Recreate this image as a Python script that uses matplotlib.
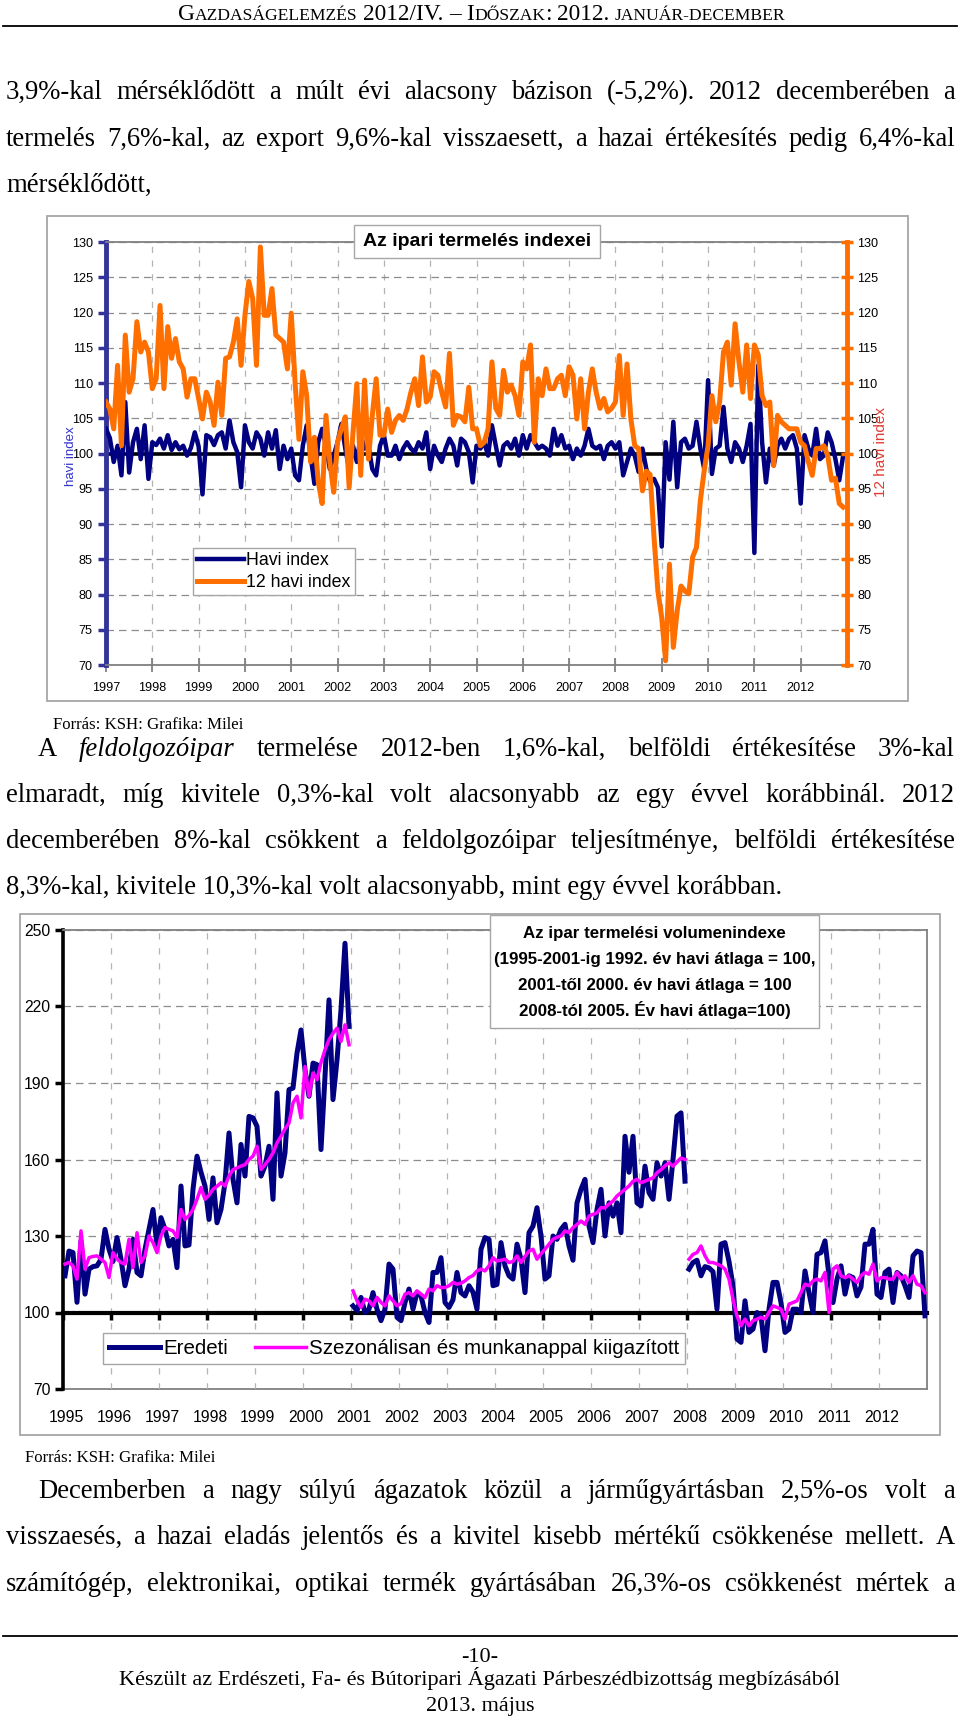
import matplotlib
matplotlib.use("Agg")
import matplotlib.pyplot as plt
import numpy as np
from matplotlib import font_manager
from matplotlib.patches import Rectangle

# ---------------- data ----------------
# chart 1: monthly indices 1997-2012 (one row per year)
havi_index = [
    [103.5, 102.2, 98.8, 101.1, 96.9, 107.3, 97.3, 101.6, 103.5, 99.2, 104.0, 96.4],
    [101.6, 101.2, 102.1, 100.7, 102.6, 100.5, 101.6, 100.6, 101.1, 99.7, 100.8, 103.0],
    [101.0, 94.2, 102.6, 102.3, 101.2, 102.6, 103.0, 100.7, 104.7, 101.6, 100.2, 95.2],
    [104.0, 101.6, 100.7, 103.0, 102.1, 99.7, 103.0, 100.7, 103.3, 97.8, 101.1, 99.2],
    [100.7, 96.9, 96.2, 101.1, 104.0, 99.7, 95.7, 101.6, 103.5, 101.1, 97.8, 99.7],
    [101.6, 104.2, 100.7, 97.8, 101.1, 98.8, 102.6, 100.7, 101.1, 97.8, 96.9, 101.1],
    [102.6, 99.7, 99.7, 101.1, 99.2, 100.7, 101.6, 100.7, 100.2, 101.6, 100.7, 103.0],
    [97.8, 101.1, 99.7, 98.8, 100.7, 102.1, 101.1, 98.3, 102.1, 101.6, 100.2, 95.9],
    [101.1, 100.7, 101.6, 99.7, 104.0, 101.1, 98.3, 101.1, 101.6, 100.7, 102.1, 99.7],
    [102.6, 100.7, 102.6, 101.6, 100.7, 101.1, 100.7, 99.7, 103.5, 101.1, 102.6, 100.7],
    [101.1, 99.2, 100.7, 99.7, 101.1, 103.5, 101.1, 100.7, 101.1, 99.2, 101.1, 101.6],
    [100.7, 101.6, 96.9, 98.8, 100.7, 99.7, 97.4, 100.7, 97.8, 96.0, 96.4, 95.2],
    [86.8, 101.6, 96.3, 104.5, 95.2, 101.6, 102.1, 100.7, 101.1, 104.5, 100.7, 97.8],
    [110.4, 97.1, 100.7, 101.1, 106.6, 100.7, 98.8, 101.6, 100.7, 98.8, 101.1, 104.2],
    [85.9, 112.5, 101.6, 95.9, 100.7, 98.3, 101.1, 102.1, 100.7, 102.1, 102.6, 100.7],
    [92.9, 102.6, 100.7, 99.7, 103.5, 99.2, 99.7, 103.0, 101.6, 99.2, 96.2, 99.7],
]
havi12_index = [
    [107.3, 106.3, 103.5, 112.5, 101.1, 116.8, 108.7, 110.6, 118.7, 114.4, 115.8, 114.4],
    [109.2, 110.6, 121.0, 109.2, 118.0, 113.5, 116.3, 113.0, 112.0, 108.0, 110.6, 110.6],
    [107.8, 104.9, 108.7, 107.3, 104.0, 110.1, 105.4, 113.5, 113.7, 115.8, 119.1, 112.5],
    [119.6, 124.4, 122.0, 112.5, 129.3, 119.6, 119.6, 123.4, 116.8, 116.3, 115.8, 112.0],
    [119.9, 110.0, 102.0, 111.6, 108.2, 98.8, 102.3, 96.0, 92.9, 105.4, 98.8, 94.5],
    [101.6, 103.5, 105.2, 95.2, 103.0, 109.9, 96.9, 110.4, 99.2, 105.4, 110.6, 102.6],
    [102.6, 106.3, 103.0, 104.7, 105.4, 104.7, 106.3, 108.7, 110.6, 106.8, 113.7, 107.3],
    [108.0, 111.6, 111.1, 108.7, 106.6, 114.2, 104.0, 105.4, 105.2, 104.5, 109.4, 103.5],
    [103.5, 101.1, 101.6, 103.5, 113.0, 106.4, 105.4, 111.8, 108.7, 109.7, 108.2, 105.4],
    [113.0, 112.0, 115.4, 101.6, 110.6, 108.2, 112.0, 109.2, 109.2, 110.6, 111.1, 108.2],
    [112.3, 111.1, 104.9, 110.6, 103.5, 108.7, 112.0, 108.7, 106.4, 107.8, 105.9, 106.4],
    [107.3, 113.9, 105.4, 112.7, 104.9, 101.1, 100.7, 94.7, 97.5, 97.0, 88.1, 80.5],
    [76.7, 70.6, 84.3, 72.5, 77.7, 81.2, 80.5, 80.1, 85.3, 86.7, 93.3, 97.6],
    [101.1, 108.2, 104.5, 107.3, 114.4, 115.8, 109.7, 118.4, 113.0, 108.7, 115.4, 107.8],
    [115.4, 114.0, 108.2, 106.8, 107.3, 98.3, 105.4, 104.5, 104.0, 103.5, 103.5, 103.5],
    [101.6, 101.1, 98.8, 96.9, 100.7, 100.7, 101.1, 99.7, 96.2, 96.5, 92.9, 92.4],
]
years1 = list(range(1997, 2013))
ticks1 = list(range(70, 131, 5))

# chart 2: volume index, three base periods
eredeti_1995 = [
    [114.4, 124.1, 123.5, 104.0, 128.1, 107.2, 117.0, 118.0, 118.3, 120.9, 132.6, 124.8],
    [120.0, 129.4, 120.9, 110.5, 117.0, 128.7, 115.7, 114.4, 124.8, 132.6, 140.4, 126.1],
    [137.2, 132.6, 126.1, 128.7, 117.6, 149.6, 126.1, 126.5, 148.3, 161.3, 155.0, 149.6],
    [136.5, 152.8, 135.2, 140.4, 150.9, 170.4, 152.2, 143.0, 165.9, 153.5, 176.9, 176.3],
    [173.0, 153.5, 157.4, 165.2, 144.4, 186.1, 153.5, 162.6, 187.4, 188.0, 201.7, 210.8],
    [195.2, 184.8, 197.8, 197.2, 163.9, 192.6, 222.6, 183.5, 199.0, 218.7, 244.8, 212.2],
]
kiigazitott_1995 = [
    [119.0, 119.6, 118.3, 113.1, 132.0, 117.0, 121.5, 122.0, 122.2, 120.9, 119.6, 113.7],
    [123.5, 121.0, 119.6, 119.0, 128.7, 117.6, 131.3, 119.6, 122.2, 130.0, 127.4, 123.5],
    [130.0, 133.3, 132.6, 132.0, 129.4, 140.4, 136.5, 138.0, 140.4, 144.4, 149.0, 144.4],
    [146.0, 148.3, 149.5, 150.9, 149.6, 153.5, 156.0, 156.7, 157.4, 158.0, 160.0, 161.3],
    [165.2, 156.1, 158.0, 160.0, 162.6, 166.5, 169.1, 172.0, 174.3, 182.2, 184.8, 176.3],
    [196.5, 184.8, 193.9, 191.3, 198.0, 203.0, 207.0, 209.5, 211.5, 206.3, 212.8, 205.0],
]
eredeti_2001 = [
    [102.6, 100.7, 105.9, 100.0, 101.3, 107.8, 101.3, 96.8, 101.3, 119.0, 117.0, 98.1],
    [96.8, 103.9, 109.2, 101.3, 107.8, 106.5, 100.0, 96.1, 115.7, 115.7, 121.5, 103.9],
    [102.0, 105.0, 115.7, 107.8, 106.5, 110.5, 108.0, 101.3, 124.8, 129.4, 128.7, 110.5],
    [111.0, 127.4, 118.3, 114.4, 113.1, 126.8, 120.9, 107.8, 131.3, 133.9, 141.1, 130.0],
    [113.1, 114.4, 130.0, 128.7, 132.6, 134.6, 126.1, 120.5, 143.0, 148.3, 152.2, 133.9],
    [127.4, 140.4, 148.3, 130.0, 143.0, 137.8, 143.0, 131.3, 169.1, 155.0, 169.1, 143.0],
    [141.8, 157.4, 147.0, 144.4, 158.7, 153.5, 158.7, 144.4, 160.0, 177.0, 178.3, 151.5],
]
kiigazitott_2001 = [
    [108.5, 104.6, 102.0, 105.2, 104.6, 102.6, 105.9, 104.0, 102.6, 106.5, 104.6, 102.6],
    [103.5, 107.2, 107.8, 106.5, 108.5, 107.2, 105.9, 109.2, 108.5, 110.5, 109.8, 109.8],
    [110.5, 111.8, 111.1, 111.5, 112.4, 113.7, 114.5, 116.3, 117.0, 116.3, 118.3, 121.5],
    [120.2, 120.5, 120.9, 119.6, 120.0, 122.2, 119.6, 122.0, 124.1, 124.8, 120.9, 123.0],
    [124.8, 126.8, 128.7, 129.5, 130.0, 132.0, 131.3, 133.3, 134.5, 135.9, 134.6, 137.8],
    [138.5, 139.1, 141.1, 141.1, 142.5, 143.7, 145.7, 147.0, 148.3, 149.6, 151.5, 152.2],
    [150.9, 151.5, 152.2, 152.8, 154.8, 156.0, 157.5, 158.7, 157.4, 159.0, 160.6, 160.0],
]
eredeti_2008 = [
    [117.0, 119.6, 120.5, 114.4, 118.0, 117.5, 116.0, 101.3, 126.8, 127.4, 120.0, 110.5],
    [89.6, 88.3, 104.6, 92.2, 93.5, 100.0, 98.7, 85.0, 101.3, 111.8, 111.8, 103.9],
    [92.2, 93.5, 101.3, 101.3, 100.0, 116.3, 107.8, 100.0, 122.8, 123.5, 128.1, 114.4],
    [103.9, 113.1, 118.3, 107.2, 114.4, 113.7, 106.5, 110.0, 126.8, 126.8, 132.6, 107.2],
    [105.9, 115.7, 117.0, 103.9, 115.7, 114.4, 110.5, 105.9, 122.2, 124.1, 123.5, 98.7],
]
kiigazitott_2008 = [
    [120.9, 122.8, 123.5, 126.1, 122.2, 119.6, 119.6, 119.0, 118.3, 117.0, 113.1, 105.2],
    [98.7, 94.8, 97.4, 94.8, 96.8, 97.4, 98.1, 97.4, 100.0, 102.6, 102.0, 101.3],
    [97.4, 103.3, 103.9, 104.6, 107.8, 111.1, 110.5, 112.4, 113.1, 112.4, 115.7, 100.0],
    [117.0, 118.3, 114.4, 113.7, 114.4, 113.1, 111.8, 114.4, 115.7, 115.0, 119.0, 112.4],
    [113.7, 113.7, 113.1, 113.1, 115.7, 113.1, 114.4, 111.8, 114.4, 111.1, 110.5, 107.8],
]
years2 = list(range(1995, 2013))
ticks2 = list(range(70, 251, 30))

title2_lines = [
    "Az ipar termelési volumenindexe",
    "(1995-2001-ig 1992. év havi átlaga = 100,",
    "2001-től 2000. év havi átlaga = 100",
    "2008-tól 2005. Év havi átlaga=100)",
]

# ---------------- fonts / helpers ----------------
W, H = 960, 1719
names = {f.name for f in font_manager.fontManager.ttflist}
SANS = "Liberation Sans"
SERIF = "Liberation Serif"
if "Liberation Sans Narrow" in names:
    NARROW, NS = "Liberation Sans Narrow", 1.0
else:
    NARROW, NS = SANS, 0.84

NAVY = "#000080"
ORANGE = "#FF6F00"
MAGENTA = "#FF00FF"
FRAME = "#A6A6A6"
BODY = 19.2

fig = plt.figure(figsize=(W / 100, H / 100), dpi=100)
renderer = fig.canvas.get_renderer()


def fx(x):
    return x / W


def fy(y):
    return 1 - y / H


def ptext(x, y, s, **kw):
    return fig.text(fx(x), fy(y), s, **kw)


def rect(x0, y0, x1, y1, **kw):
    r = Rectangle((fx(x0), fy(y1)), (x1 - x0) / W, (y1 - y0) / H,
                  transform=fig.transFigure, **kw)
    fig.add_artist(r)


def hrule(y, x0=3, x1=957, lw=1.2):
    fig.add_artist(plt.Line2D([fx(x0), fx(x1)], [fy(y), fy(y)],
                              transform=fig.transFigure, color="black", lw=lw))


def width(t):
    return t.get_window_extent(renderer).width


def justify(line, y, x0=6, x1=955, italic=(), size=BODY):
    items = [ptext(x0, y, w, fontsize=size, family=SERIF, va="baseline",
                   style="italic" if w in italic else "normal")
             for w in line.split(" ")]
    ws = [width(t) for t in items]
    gap = (x1 - x0 - sum(ws)) / (len(items) - 1)
    x = x0
    for t, w in zip(items, ws):
        t.set_x(fx(x))
        x += w + gap


def left_line(line, y, x0=6, size=BODY):
    ptext(x0, y, line, fontsize=size, family=SERIF, va="baseline")


def axes_px(left, top, right, bottom):
    return fig.add_axes([fx(left), fy(bottom), (right - left) / W, (bottom - top) / H])


# ---------------- header & text ----------------
big, small = 16.8, 12.6
header_words = [
    [("G", big), ("AZDASÁGELEMZÉS", small)],
    [("2012/IV.", big)],
    [("–", big)],
    [("I", big), ("DŐSZAK", small), (":", big)],
    [("2012.", big)],
    [("JANUÁR-DECEMBER", small)],
]
items = []
for word in header_words:
    items.append([ptext(0, 20, s, fontsize=sz, family=SERIF, va="baseline") for s, sz in word])
space = 5.5
total = sum(width(t) for wd in items for t in wd) + space * (len(items) - 1)
x = 482 - total / 2
for wd in items:
    for t in wd:
        t.set_x(fx(x))
        x += width(t)
    x += space
hrule(26, lw=1.3)

justify("3,9%-kal mérséklődött a múlt évi alacsony bázison (-5,2%). 2012 decemberében a", 99)
justify("termelés 7,6%-kal, az export 9,6%-kal visszaesett, a hazai értékesítés pedig 6,4%-kal", 146)
left_line("mérséklődött,", 192)

ptext(53, 729, "Forrás: KSH: Grafika: Milei", fontsize=12.1, family=SERIF, va="baseline")
justify("A feldolgozóipar termelése 2012-ben 1,6%-kal, belföldi értékesítése 3%-kal", 756,
        x0=38, italic=("feldolgozóipar",))
justify("elmaradt, míg kivitele 0,3%-kal volt alacsonyabb az egy évvel korábbinál. 2012", 802)
justify("decemberében 8%-kal csökkent a feldolgozóipar teljesítménye, belföldi értékesítése", 848)
left_line("8,3%-kal, kivitele 10,3%-kal volt alacsonyabb, mint egy évvel korábban.", 894)

ptext(25, 1462, "Forrás: KSH: Grafika: Milei", fontsize=12.1, family=SERIF, va="baseline")
justify("Decemberben a nagy súlyú ágazatok közül a járműgyártásban 2,5%-os volt a", 1498, x0=38)
justify("visszaesés, a hazai eladás jelentős és a kivitel kisebb mértékű csökkenése mellett. A", 1544)
justify("számítógép, elektronikai, optikai termék gyártásában 26,3%-os csökkenést mértek a", 1591)

hrule(1636, lw=1.3)
for y, s in [(1662, "-10-"),
             (1685, "Készült az Erdészeti, Fa- és Bútoripari Ágazati Párbeszédbizottság megbízásából"),
             (1711, "2013. május")]:
    ptext(480, y, s, fontsize=16, family=SERIF, va="baseline", ha="center")

# ---------------- chart 1 ----------------
rect(47, 216, 908, 701, fill=False, edgecolor=FRAME, lw=1.3)
ax1 = axes_px(106, 242, 847, 665)
x1 = years1[0] + np.arange(len(years1) * 12) / 12
ax1.set_xlim(1997, 2013)
ax1.set_ylim(70, 130)
ax1.axhline(100, color="black", lw=2.6, zorder=2)
l_havi, = ax1.plot(x1, np.ravel(havi_index), color=NAVY, lw=3.2, zorder=3)
ax1.set_yticks(ticks1, labels=[str(v) for v in ticks1], family=NARROW, fontsize=10.8 * NS)
ax1.set_xticks(years1, labels=[str(v) for v in years1], family=NARROW, fontsize=10.8 * NS)
ax1.grid(axis="y", color="#8C8C8C", lw=0.9, ls=(0, (6, 4)))
ax1.grid(axis="x", color="#B4B4B4", lw=0.9, ls=(0, (5, 6)))
ax1.set_axisbelow(True)
ax1.tick_params(axis="y", direction="out", length=6, width=2.5, color="#333399", pad=3.5)
ax1.tick_params(axis="x", direction="inout", length=10, width=1.3, color="#808080", pad=7)
ax1.spines["left"].set_color("#333399")
ax1.spines["left"].set_linewidth(3.5)
ax1.spines["right"].set_visible(False)
for s in ("top", "bottom"):
    ax1.spines[s].set_color("#808080")
    ax1.spines[s].set_linewidth(1.3)

ax2 = ax1.twinx()
ax2.set_ylim(70, 130)
l_12, = ax2.plot(x1, np.ravel(havi12_index), color=ORANGE, lw=3.6, zorder=3)
ax2.set_yticks(ticks1, labels=[str(v) for v in ticks1], family=NARROW, fontsize=10.8 * NS)
ax2.tick_params(axis="y", direction="inout", length=9, width=2.5, color=ORANGE, pad=3)
for s in ("left", "top", "bottom"):
    ax2.spines[s].set_visible(False)
ax2.spines["right"].set_color(ORANGE)
ax2.spines["right"].set_linewidth(3.5)

leg1 = ax2.legend([l_havi, l_12], ["Havi index", "12 havi index"], loc="upper left",
                  bbox_to_anchor=(fx(193), fy(548)), bbox_transform=fig.transFigure,
                  prop={"family": SANS, "size": 12.8}, handlelength=2.6, handletextpad=0.12,
                  borderpad=0.25, labelspacing=0.25, borderaxespad=0, fancybox=False,
                  edgecolor=FRAME, framealpha=1)
leg1.get_frame().set_linewidth(1.0)

ptext(71, 456, "havi index", rotation=90, ha="center", va="center",
      color="#3333CC", family=SANS, fontsize=9.5)
ptext(881, 452, "12 havi index", rotation=90, ha="center", va="center",
      color="#E03C31", family=SANS, fontsize=11)
rect(354, 225, 600, 258, facecolor="white", edgecolor=FRAME, lw=1.0, zorder=5)
ptext(477, 242, "Az ipari termelés indexei", ha="center", va="center",
      family=SANS, fontweight="bold", fontsize=14, zorder=6)

# ---------------- chart 2 ----------------
rect(20, 914, 940, 1435, fill=False, edgecolor=FRAME, lw=1.3)
ax3 = axes_px(63, 930, 927, 1389)
ax3.set_xlim(1995, 2013)
ax3.set_ylim(70, 250)
segments = [(1995, eredeti_1995, kiigazitott_1995),
            (2001, eredeti_2001, kiigazitott_2001),
            (2008, eredeti_2008, kiigazitott_2008)]
for i, (start, ered, kiig) in enumerate(segments):
    xs = start + (np.arange(len(ered) * 12) + 0.5) / 12
    ax3.plot(xs, np.ravel(ered), color=NAVY, lw=3.6, zorder=3,
             label="Eredeti" if i == 0 else None)
    ax3.plot(xs, np.ravel(kiig), color=MAGENTA, lw=2.5, zorder=4,
             label="Szezonálisan és munkanappal kiigazított" if i == 0 else None)

ax3.set_yticks(ticks2, labels=[str(v) for v in ticks2], family=NARROW, fontsize=13.5 * NS)
ax3.set_xticks(years2, labels=[])
ax3.grid(axis="y", color="#8C8C8C", lw=0.9, ls=(0, (6, 4)))
ax3.grid(axis="x", color="#B4B4B4", lw=0.9, ls=(0, (5, 7)))
ax3.set_axisbelow(True)
ax3.tick_params(axis="y", direction="out", length=6, width=2.5, color="black", pad=3)
ax3.tick_params(axis="x", direction="out", length=5, width=2.5, color="black")
ax3.spines["bottom"].set_position(("data", 100))
ax3.spines["bottom"].set_linewidth(3.0)
ax3.spines["bottom"].set_zorder(2.5)
ax3.spines["left"].set_linewidth(2.6)
for s in ("top", "right"):
    ax3.spines[s].set_color("#808080")
    ax3.spines[s].set_linewidth(1.3)

sec = ax3.secondary_xaxis(0.0)
sec.set_xticks(np.array(years2) + 0.06, labels=[str(v) for v in years2],
               family=NARROW, fontsize=13.5 * NS)
sec.tick_params(length=0, pad=15)
sec.spines["bottom"].set_color("#808080")
sec.spines["bottom"].set_linewidth(1.3)

leg2 = ax3.legend(ncol=2, loc="upper left", bbox_to_anchor=(fx(103), fy(1333)),
                  bbox_transform=fig.transFigure, prop={"family": SANS, "size": 14.8},
                  handlelength=2.5, handletextpad=0.15, columnspacing=1.3, borderpad=0.28,
                  borderaxespad=0, fancybox=False, edgecolor=FRAME, framealpha=1)
leg2.get_frame().set_linewidth(1.0)

rect(490, 915, 819, 1028, facecolor="white", edgecolor=FRAME, lw=1.0, zorder=5)
for y, s in zip([933, 959, 985, 1010], title2_lines):
    ptext(654.5, y, s, ha="center", va="center", family=SANS, fontweight="bold",
          fontsize=12.2, zorder=6)

fig.savefig("out.png", dpi=100)
